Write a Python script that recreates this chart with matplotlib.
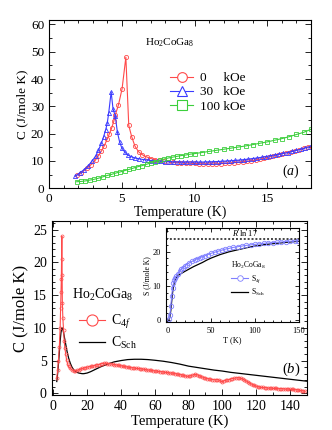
import matplotlib
matplotlib.use("Agg")
import matplotlib.pyplot as plt
from matplotlib.lines import Line2D
from matplotlib.ticker import MultipleLocator

plt.rcParams['font.family'] = ['Liberation Serif', 'DejaVu Serif']
plt.rcParams['mathtext.fontset'] = 'custom'
plt.rcParams['mathtext.rm'] = 'Liberation Serif'
plt.rcParams['mathtext.it'] = 'Liberation Serif:italic'
plt.rcParams['mathtext.bf'] = 'Liberation Serif:bold'

# ---------------- Panel (a) data ----------------
T_0 = [1.9, 2.2, 2.6, 2.9, 3.2, 3.4, 3.6, 3.8, 4.0, 4.15, 4.3, 4.45, 4.55, 4.77, 5.02, 5.28, 5.48,
       5.68, 5.9, 6.15, 6.4, 6.7, 7.0, 7.3, 7.6, 7.9, 8.2, 8.5, 8.8, 9.1, 9.4, 9.7, 10.0, 10.3,
       10.6, 10.9, 11.2, 11.5, 11.8, 12.1, 12.4, 12.7, 13.0, 13.3, 13.6, 13.9, 14.2, 14.5, 14.8,
       15.1, 15.4, 15.7, 16.0, 16.3, 16.6, 16.9, 17.2, 17.5, 17.8]
C_0 = [4.7, 5.6, 7.3, 8.7, 10.4, 12.0, 13.6, 15.6, 18.0, 20.0, 22.0, 24.5, 26.8, 30.5, 36.4, 48.0, 23.0,
       18.9, 15.5, 13.4, 12.3, 11.5, 10.9, 10.5, 10.2, 9.9, 9.7, 9.5, 9.4, 9.3, 9.2, 9.2, 9.1, 9.0,
       8.95, 8.9, 8.9, 8.95, 9.0, 9.1, 9.2, 9.35, 9.5, 9.7, 9.9, 10.1, 10.4, 10.7, 11.0,
       11.4, 11.8, 12.2, 12.6, 13.0, 13.4, 13.8, 14.2, 14.7, 15.1]

T_30 = [1.8, 2.1, 2.4, 2.7, 2.95, 3.2, 3.4, 3.6, 3.75, 3.9, 4.0, 4.1, 4.27, 4.4, 4.55, 4.7, 4.85,
        5.0, 5.2, 5.4, 5.65, 5.9, 6.2, 6.5, 6.8, 7.1, 7.4, 7.7, 8.0, 8.3, 8.6, 8.9, 9.2, 9.5, 9.8,
        10.1, 10.4, 10.7, 11.0, 11.3, 11.6, 11.9, 12.2, 12.5, 12.8, 13.1, 13.4, 13.7, 14.0, 14.3,
        14.6, 14.9, 15.2, 15.5, 15.8, 16.1, 16.4, 16.7, 17.0, 17.3, 17.6, 17.9]
C_30 = [4.5, 5.6, 6.8, 8.3, 9.9, 11.8, 14.0, 16.5, 18.9, 21.5, 23.8, 27.5, 35.3, 29.0, 26.6, 20.5, 17.0,
        14.8, 13.3, 12.2, 11.6, 11.1, 10.8, 10.5, 10.3, 10.1, 10.0, 9.9, 9.8, 9.75, 9.7, 9.65, 9.6, 9.6, 9.6,
        9.6, 9.6, 9.65, 9.7, 9.75, 9.8, 9.9, 10.0, 10.1, 10.2, 10.35, 10.5, 10.7, 10.9, 11.1,
        11.35, 11.6, 11.9, 12.2, 12.5, 12.8, 13.1, 13.5, 13.9, 14.3, 14.8, 15.3]

T_100 = [1.9, 2.2, 2.5, 2.8, 3.1, 3.4, 3.7, 4.0, 4.3, 4.6, 4.9, 5.2, 5.5, 5.8, 6.1, 6.4, 6.7, 7.0,
         7.3, 7.6, 7.9, 8.2, 8.5, 8.8, 9.1, 9.4, 9.7, 10.0, 10.5, 11.0, 11.5, 12.0, 12.5, 13.0, 13.5,
         14.0, 14.5, 15.0, 15.5, 16.0, 16.5, 17.0, 17.5, 18.0]
C_100 = [2.4, 2.5, 2.7, 3.0, 3.3, 3.7, 4.2, 4.7, 5.1, 5.6, 6.0, 6.5, 6.9, 7.4, 7.9, 8.3, 8.8, 9.3,
         9.8, 10.3, 10.7, 11.1, 11.4, 11.7, 12.0, 12.2, 12.5, 12.7, 13.1, 13.5, 13.9, 14.3, 14.7, 15.1, 15.5,
         16.0, 16.5, 17.0, 17.6, 18.2, 18.9, 19.7, 20.5, 21.6]

# ---------------- Panel (b) data ----------------
T_4f = [2.0, 2.5, 3.0, 3.5, 4.0, 4.3, 4.5, 4.7, 4.85, 5.0, 5.15, 5.3, 5.6, 6.0, 6.4, 6.8, 7.3, 7.8,
        8.4, 9, 10, 11, 12, 13, 14, 15, 16, 17, 18, 19, 20, 21, 22, 23, 24, 25, 26, 27, 28, 29, 30,
        31, 32, 33, 34, 35, 36, 37, 38, 39, 40, 41, 42, 43, 44, 45, 46, 47, 48, 49, 50, 51, 52, 53,
        54, 55, 56, 57, 58, 59, 60, 61, 62, 63, 64, 65, 66, 67, 68, 69, 70, 71, 72, 73, 74, 75, 76,
        77, 78, 79, 80, 81, 82, 83, 84, 85, 86, 87, 88, 89, 90, 91, 92, 93, 94, 95, 96, 97, 98, 99,
        100, 101, 102, 103, 104, 105, 106, 107, 108, 109, 110, 111, 112, 113, 114, 115, 116, 117,
        118, 119, 120, 121, 122, 123, 124, 125, 126, 127, 128, 129, 130, 131, 132, 133, 134, 135,
        136, 137, 138, 139, 140, 141, 142, 143, 144, 145, 146, 147, 148, 149]
C_4f = [2.3, 3.5, 5.0, 7.0, 10.0, 13.0, 15.5, 17.5, 20.5, 24.0, 18.0, 13.8, 11.5, 9.7, 8.0, 6.9, 6.0, 5.1,
        4.5, 4.1, 3.8, 3.55, 3.45, 3.4, 3.5, 3.6, 3.7, 3.8, 3.85, 3.9, 4.0, 4.05, 4.1, 4.15, 4.2, 4.3, 4.35, 4.4, 4.5, 4.55, 4.6,
        4.6, 4.55, 4.55, 4.5, 4.45, 4.4, 4.35, 4.3, 4.25, 4.2, 4.15, 4.1, 4.05, 4.0, 3.95, 3.9, 3.9, 3.85, 3.8, 3.8, 3.75, 3.7, 3.7,
        3.65, 3.6, 3.55, 3.55, 3.5, 3.45, 3.4, 3.4, 3.35, 3.3, 3.3, 3.25, 3.2, 3.2, 3.15, 3.1, 3.1, 3.05, 3.0, 2.95, 2.9, 2.85, 2.8,
        2.75, 2.65, 2.6, 2.6, 2.65, 2.75, 2.85, 2.9, 2.85, 2.7, 2.6, 2.5, 2.4, 2.3, 2.25, 2.2, 2.15, 2.1, 2.1, 2.05, 2.1, 2.05, 1.85,
        1.75, 1.9, 2.0, 2.05, 2.1, 2.2, 2.25, 2.3, 2.35, 2.4, 2.35, 2.3, 2.2, 2.05, 1.9, 1.75, 1.6, 1.45,
        1.3, 1.2, 1.1, 1.0, 0.95, 0.9, 0.9, 0.85, 0.85, 0.8, 0.8, 0.8, 0.75, 0.75, 0.75, 0.7, 0.7, 0.7,
        0.7, 0.65, 0.65, 0.65, 0.6, 0.6, 0.6, 0.55, 0.55, 0.5, 0.45, 0.4, 0.35, 0.3]

T_sch = [2, 2.5, 3, 3.5, 4, 4.5, 5, 5.5, 6, 7, 8, 9, 10, 11, 12, 13, 14, 15, 16, 17, 18, 19, 20,
         22, 24, 26, 28, 30, 33, 36, 40, 44, 48, 52, 56, 60, 65, 70, 75, 80, 85, 90, 95, 100, 105,
         110, 115, 120, 125, 130, 135, 140, 145, 150]
C_sch = [1.8, 3.0, 4.5, 6.2, 8.0, 9.3, 10.0, 9.9, 9.3, 7.9, 6.5, 5.4, 4.6, 4.0, 3.6, 3.35, 3.2, 3.1, 3.05, 3.0, 3.0, 3.05, 3.1,
         3.3, 3.55, 3.8, 4.05, 4.25, 4.55, 4.8, 5.0, 5.15, 5.2, 5.2, 5.15, 5.05, 4.9, 4.7, 4.45, 4.15, 3.95, 3.75, 3.55, 3.4, 3.2,
         3.05, 2.9, 2.75, 2.6, 2.45, 2.3, 2.15, 2.0, 1.85]

# ---------------- Inset data ----------------
T_S4f = [2, 3, 4, 5, 6, 7, 8, 9, 10, 12, 14, 16, 18, 20, 22, 25, 28, 31, 34, 37, 40, 43, 46, 50,
         54, 58, 62, 66, 70, 75, 80, 85, 90, 95, 100, 105, 110, 115, 120, 125, 130, 135, 140, 145, 149]
S_4f = [0.2, 1.5, 4.0, 7.0, 9.3, 10.7, 11.6, 12.2, 12.7, 13.5, 14.2, 14.8, 15.3, 15.8, 16.2, 16.7, 17.1, 17.5, 17.9, 18.2, 18.5, 18.8, 19.1, 19.5,
        19.8, 20.1, 20.4, 20.7, 20.9, 21.2, 21.4, 21.6, 21.8, 21.95, 22.1, 22.25, 22.4, 22.5, 22.6, 22.7, 22.8, 22.9, 23.0, 23.1, 23.15]
T_SSch = [2, 3, 4, 5, 6, 7, 8, 9, 10, 12, 14, 16, 18, 20, 25, 30, 35, 40, 45, 50, 55, 60, 65, 70,
          75, 80, 85, 90, 95, 100, 110, 120, 130, 140, 150]
S_Sch = [0.1, 1.0, 2.8, 5.5, 8.0, 9.8, 11.0, 11.8, 12.3, 12.9, 13.3, 13.6, 13.9, 14.2, 14.9, 15.6, 16.2, 16.8, 17.5, 18.1, 18.6, 19.1, 19.5, 19.9,
         20.2, 20.5, 20.8, 21.1, 21.35, 21.6, 22.0, 22.3, 22.55, 22.8, 23.0]
R_LN17 = 8.314 * 2.833

RED = '#ff4a4a'
BLUE = '#3a3aff'
GREEN = '#3ccf3c'

fig = plt.figure(figsize=(3.32, 4.30), dpi=100)

def style(ax, xmaj, xmin, ymaj, ymin, lsize, length=4):
    ax.xaxis.set_major_locator(MultipleLocator(xmaj))
    ax.xaxis.set_minor_locator(MultipleLocator(xmin))
    ax.yaxis.set_major_locator(MultipleLocator(ymaj))
    ax.yaxis.set_minor_locator(MultipleLocator(ymin))
    ax.tick_params(which='both', direction='in', top=True, right=True, width=0.6,
                   labelsize=lsize)
    ax.tick_params(which='major', length=length)
    ax.tick_params(which='minor', length=length * 0.5)
    for s in ax.spines.values():
        s.set_linewidth(0.8)

# ---- (a)
axa = fig.add_axes([49/332, 1-188.3/430, 262/332, 168.8/430])
axa.plot(T_0, C_0, '-', color=RED, lw=0.8, marker='o', ms=3, mfc='none', mec=RED, mew=0.6)
axa.plot(T_30, C_30, '-', color=BLUE, lw=0.8, marker='^', ms=3, mfc='none', mec=BLUE, mew=0.6)
axa.plot(T_100, C_100, '-', color=GREEN, lw=0.8, marker='s', ms=3, mfc='none', mec=GREEN, mew=0.6)
axa.set_xlim(0, 18)
axa.set_ylim(0, 61.8)
style(axa, 5, 1, 10, 5, 9.5)
axa.set_xlabel('Temperature (K)', fontsize=10, labelpad=0)
axa.set_ylabel('C (J/mole K)', fontsize=9.5, labelpad=2)
axa.text(0.365, 0.86, 'Ho$_2$CoGa$_8$', transform=axa.transAxes, fontsize=8, ha='left', va='center')
handles_a = [Line2D([], [], color=RED, lw=0.8, marker='o', ms=7, mfc='white', mec=RED, mew=0.8),
             Line2D([], [], color=BLUE, lw=0.8, marker='^', ms=7, mfc='white', mec=BLUE, mew=0.8),
             Line2D([], [], color=GREEN, lw=0.8, marker='s', ms=7, mfc='white', mec=GREEN, mew=0.8)]
axa.legend(handles_a, ['0     kOe', '30   kOe', '100 kOe'], loc='upper left',
           bbox_to_anchor=((170-49)/262, (188.3-72)/168.8), frameon=False, fontsize=9.5,
           borderaxespad=0, borderpad=0, handlelength=1.75, handletextpad=0.5, labelspacing=0.15)
axa.text(0.955, 0.1, '$(a)$', transform=axa.transAxes, fontsize=10, ha='right', va='center')

# ---- (b)
axb = fig.add_axes([51.7/332, 1-395.3/430, 255.6/332, 174.3/430])
axb.plot(T_sch, C_sch, '-', color='black', lw=0.9)
axb.plot(T_4f, C_4f, '-', color=RED, lw=0.8, marker='o', ms=2.2, mfc='none', mec=RED, mew=0.5)
axb.set_xlim(-1, 150.3)
axb.set_ylim(-0.3, 26.3)
style(axb, 20, 10, 5, 1, 10)
axb.set_xlabel('Temperature (K)', fontsize=10.5, labelpad=1)
axb.set_ylabel('C (J/mole K)', fontsize=12, labelpad=3)
axb.text(0.079, 0.575, 'Ho$_2$CoGa$_8$', transform=axb.transAxes, fontsize=10, ha='left', va='center')
handles_b = [Line2D([], [], color=RED, lw=0.8, marker='o', ms=8, mfc='white', mec=RED, mew=0.8),
             Line2D([], [], color='black', lw=0.9)]
axb.legend(handles_b, ['C$_{4f}$', 'C$_{\\rm Sch}$'], loc='upper left',
           bbox_to_anchor=((79-51.7)/255.6, (395.3-313)/174.3), frameon=False, fontsize=10,
           borderaxespad=0, borderpad=0, handlelength=1.9, handletextpad=0.4, labelspacing=0.25)
axb.text(0.975, 0.15, '$(b)$', transform=axb.transAxes, fontsize=10.5, ha='right', va='center')

# ---- inset
axi = fig.add_axes([166/332, 1-322.3/430, 133/332, 94/430])
axi.plot(T_SSch, S_Sch, '-', color='black', lw=0.9)
axi.plot(T_S4f, S_4f, '-', color='#8080ff', lw=0.8, marker='o', ms=3.2, mfc='none', mec='#8080ff', mew=0.6)
axi.axhline(R_LN17, color='#444444', lw=1.4, ls=(0, (1, 1)))
axi.set_xlim(-1.5, 150)
axi.set_ylim(-0.7, 26.8)
style(axi, 50, 10, 10, 2, 6, length=3)
axi.set_xlabel('T (K)', fontsize=6, labelpad=1)
axi.set_ylabel('S (J/mole K)', fontsize=5.5, labelpad=1)
axi.text(89, R_LN17 + 0.5, '$R$ ln 17', fontsize=6, ha='center', va='bottom')
handles_i = [Line2D([], [], color='#8080ff', lw=0.8, marker='o', ms=4, mfc='white', mec='#8080ff', mew=0.6),
             Line2D([], [], color='black', lw=0.9)]
axi.legend(handles_i, ['S$_{4f}$', 'S$_{\\rm Sch}$'], title='Ho$_2$CoGa$_8$', title_fontsize=5.5,
           loc='upper left', bbox_to_anchor=(0.49, 0.66), frameon=False, fontsize=5.5,
           borderaxespad=0, borderpad=0, handlelength=2.2, handletextpad=0.4, labelspacing=0.25,
           alignment='left')

fig.savefig('out.png', dpi=100)
